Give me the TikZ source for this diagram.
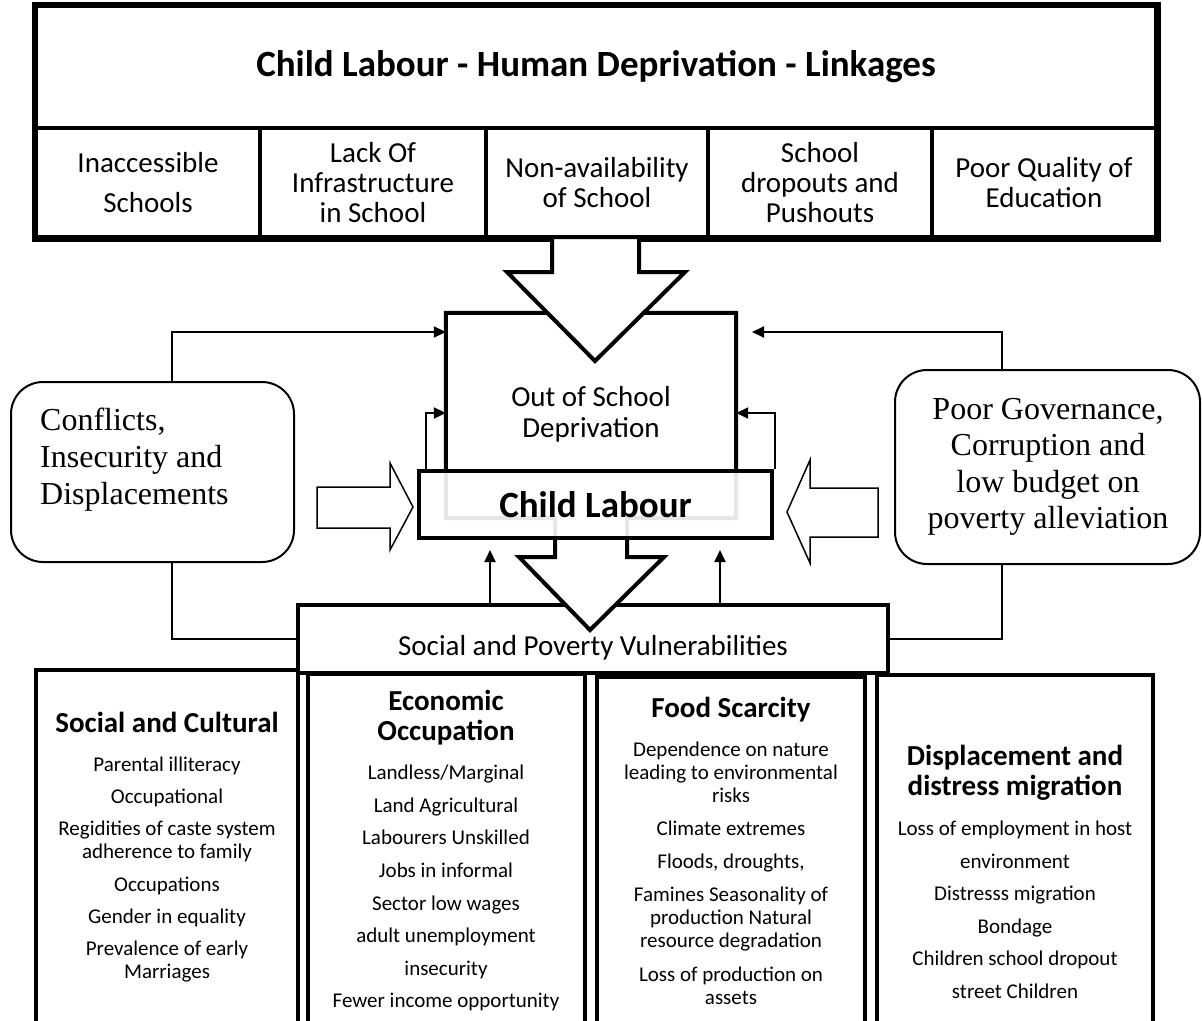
\documentclass[tikz,border=0pt]{standalone}
\usepackage{fontspec}
\setmainfont{Carlito}
\newfontfamily\tnr{Liberation Serif}
\usetikzlibrary{arrows.meta,calc}
\begin{document}
\begin{tikzpicture}[x=1pt,y=-1pt,
  thickbox/.style={draw, line width=4pt, fill=white, inner sep=0pt},
  cell/.style={thickbox, minimum height=109pt, align=center, font=\fontsize{29}{30}\selectfont},
  column/.style={thickbox},
  head/.style={anchor=north, inner sep=0pt, align=center, font=\bfseries\fontsize{29}{30}\selectfont},
  items/.style={anchor=north, inner sep=0pt, align=center, font=\fontsize{21}{23}\selectfont},
  roundbox/.style={draw, line width=2pt, rounded corners=32pt, fill=white},
  serif/.style={inner sep=0pt, font=\tnr\fontsize{32}{37}\selectfont},
  conn/.style={line width=2pt, -{Triangle[length=12pt,width=11pt]}},
  link/.style={line width=2pt},
  blockarrow/.style={line width=1.5pt, line join=miter, fill=white},
  bigarrow/.style={line width=4pt, line join=miter, fill=white}
]
\useasboundingbox (0,0) rectangle (1202,1020);

% header table
\node[thickbox, minimum width=1120pt, minimum height=122pt,
      font=\bfseries\fontsize{37}{40}\selectfont] (title) at (596,67)
      {Child Labour - Human Deprivation - Linkages};
\node[cell, minimum width=224pt] (c1) at (148,182.5) {Inaccessible\\[10pt]Schools};
\node[cell, minimum width=226pt] (c2) at (373,182.5) {Lack Of\\Infrastructure\\in School};
\node[cell, minimum width=222pt] (c3) at (597,182.5) {Non-availability\\of School};
\node[cell, minimum width=224pt] (c4) at (820,182.5) {School\\dropouts and\\Pushouts};
\node[cell, minimum width=224pt] (c5) at (1044,182.5) {Poor Quality of\\Education};
\draw[line width=5pt] (title.north west) rectangle (c5.south east);

% vulnerabilities bar
\node[thickbox, minimum width=590pt, minimum height=68pt] (spv) at (593,639) {};
\node[anchor=base, inner sep=0pt, font=\fontsize{29}{30}\selectfont] (spvt) at (593,655)
      {Social and Poverty Vulnerabilities};

% four columns
\node[column, minimum width=262pt, minimum height=370pt] (k1) at (167,855) {};
\node[column, minimum width=277pt, minimum height=366pt] (k2) at (446.5,857) {};
\node[column, minimum width=268pt, minimum height=363pt] (k3) at (731,858.5) {};
\node[column, minimum width=276pt, minimum height=365pt] (k4) at (1015,857.5) {};

\node[head] (h1) at (167,712) {Social and Cultural};
\node[items] (i1) at (167,757) {Parental illiteracy\\[9pt]Occupational\\[9pt]Regidities of caste system\\adherence to family\\[10pt]Occupations\\[9pt]Gender in equality\\[9pt]Prevalence of early\\Marriages};

\node[head] (h2) at (446,690) {Economic\\Occupation};
\node[items] (i2) at (446,765) {Landless/Marginal\\[9.6pt]Land Agricultural\\[9.6pt]Labourers Unskilled\\[9.6pt]Jobs in informal\\[9.6pt]Sector low wages\\[9.6pt]adult unemployment\\[9.6pt]insecurity\\[9.6pt]Fewer income opportunity};

\node[head] (h3) at (731,697) {Food Scarcity};
\node[items] (i3) at (731,742) {Dependence on nature\\leading to environmental\\risks\\[10pt]Climate extremes\\[9.5pt]Floods, droughts,\\[10pt]Famines Seasonality of\\production Natural\\resource degradation\\[11pt]Loss of production on\\assets};

\node[head] (h4) at (1015,745) {Displacement and\\distress migration};
\node[items] (i4) at (1015,821) {Loss of employment in host\\[9.5pt]environment\\[9.5pt]Distresss migration\\[9.5pt]Bondage\\[9.5pt]Children school dropout\\[9.5pt]street Children};

% out-of-school callout with its downward arrow
\node[minimum width=290pt, minimum height=205pt, inner sep=0pt] (oos) at (591,415.5) {};
\draw[bigarrow] (oos.south west) -- (oos.north west) -- (oos.north east) -- (oos.south east)
  -- (627,518) -- (627,557) -- (664,557) -- (590,630) -- (519,557) -- (555,557) -- (555,518) -- cycle;
\node[anchor=north, inner sep=0pt, align=center, font=\fontsize{29}{31}\selectfont] (oost) at (591,386)
      {Out of School\\Deprivation};

% arrow from the header table
\draw[bigarrow] (552,237) -- (552,272) -- (507,272) -- (595,361) -- (685,272) -- (639,272) -- (639,237) -- cycle;

% child labour box, its fill lets the callout outline show faintly
\node[draw, line width=4pt, fill=white, fill opacity=0.9, text opacity=1, draw opacity=1,
      minimum width=353pt, minimum height=67pt, inner sep=0pt,
      font=\bfseries\fontsize{37}{40}\selectfont] (cl) at (595.5,504.5) {Child Labour};

% side boxes
\node[roundbox, minimum width=283pt, minimum height=180pt] (conf) at (152.5,472) {};
\node[serif, anchor=north west, align=left] (conft) at (40,408)
      {Conflicts,\\Insecurity and\\Displacements};
\node[roundbox, minimum width=305pt, minimum height=194pt] (gov) at (1047.5,467) {};
\node[serif, anchor=north, align=center, font=\tnr\fontsize{32}{36.5}\selectfont] (govt) at (1048,398)
      {Poor Governance,\\Corruption and\\low budget on\\poverty alleviation};

% outlined block arrows into child labour
\draw[blockarrow] (317,487) -- (390,487) -- (390,463) -- (413,507) -- (390,550) -- (390,528) -- (317,528) -- cycle;
\draw[blockarrow] (878,488) -- (810,488) -- (810,460) -- (787,512) -- (810,563) -- (810,537) -- (878,537) -- cycle;

% connectors
\coordinate (lx) at (172,0);
\coordinate (rx) at (1002,0);
\coordinate (topy) at (0,332);
\coordinate (gtip) at (752,332);
\coordinate (sy) at (0,413);
\coordinate (slx) at (426,0);
\coordinate (srx) at (775,0);
\coordinate (ua) at (490,550);
\coordinate (ub) at (720,550);
\coordinate (by) at (0,639);

\draw[conn] (lx |- conf.north) |- (oos.west |- topy);
\draw[conn] (rx |- gov.north) |- (gtip);
\draw[conn] (slx |- cl.north) |- (oos.west |- sy);
\draw[conn] (srx |- cl.north) |- (oos.east |- sy);
\draw[conn] (ua |- spv.north) -- (ua);
\draw[conn] (ub |- spv.north) -- (ub);
\draw[link] (lx |- conf.south) |- (spv.west |- by);
\draw[link] (rx |- gov.south) |- (spv.east |- by);
\end{tikzpicture}
\end{document}
